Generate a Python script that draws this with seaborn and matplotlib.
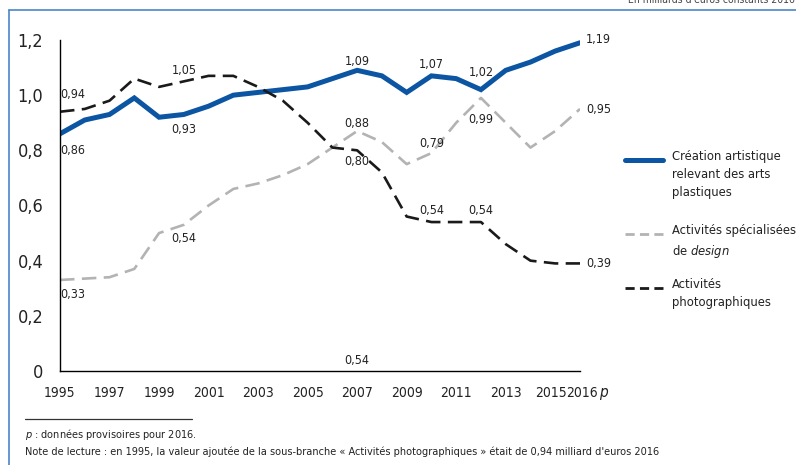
import matplotlib
matplotlib.use("Agg")
import matplotlib.pyplot as plt
from matplotlib import font_manager
from matplotlib.lines import Line2D
import matplotlib.transforms as mtrans
import seaborn as sns
import pandas as pd

years = list(range(1995, 2017))
creation = [0.86, 0.91, 0.93, 0.99, 0.92, 0.93, 0.96, 1.00, 1.01, 1.02, 1.03, 1.06,
            1.09, 1.07, 1.01, 1.07, 1.06, 1.02, 1.09, 1.12, 1.16, 1.19]
design = [0.33, 0.335, 0.34, 0.37, 0.50, 0.53, 0.60, 0.66, 0.68, 0.71, 0.75, 0.81,
          0.87, 0.83, 0.75, 0.79, 0.90, 0.99, 0.90, 0.81, 0.87, 0.95]
photo = [0.94, 0.95, 0.98, 1.06, 1.03, 1.05, 1.07, 1.07, 1.03, 0.98, 0.90, 0.81,
         0.80, 0.72, 0.56, 0.54, 0.54, 0.54, 0.46, 0.40, 0.39, 0.39]

series_names = ["Création artistique\nrelevant des arts\nplastiques",
                "Activités spécialisées\nde $\\it{design}$",
                "Activités\nphotographiques"]
y_ticks = [0, 0.2, 0.4, 0.6, 0.8, 1.0, 1.2]
y_labels = ["0", "0,2", "0,4", "0,6", "0,8", "1,0", "1,2"]
x_ticks = [1995, 1997, 1999, 2001, 2003, 2005, 2007, 2009, 2011, 2013, 2015, 2016]
x_labels = [str(y) for y in x_ticks]

# value labels: (year, value, text, dx px, dy px, ha)
labels = [
    (1995, 0.94, "0,94", 13, 17, "center"),
    (1995, 0.86, "0,86", 13, -17, "center"),
    (2000, 1.05, "1,05", 0, 11, "center"),
    (2000, 0.93, "0,93", 0, -15, "center"),
    (2000, 0.53, "0,54", 0, -14, "center"),
    (1995, 0.33, "0,33", 13, -15, "center"),
    (2007, 1.09, "1,09", 0, 9, "center"),
    (2007, 0.87, "0,88", 0, 8, "center"),
    (2007, 0.80, "0,80", 0, -11, "center"),
    (2010, 1.07, "1,07", 0, 11, "center"),
    (2010, 0.79, "0,79", 0, 10, "center"),
    (2010, 0.54, "0,54", 0, 12, "center"),
    (2012, 1.02, "1,02", 0, 17, "center"),
    (2012, 0.99, "0,99", 0, -22, "center"),
    (2012, 0.54, "0,54", 0, 12, "center"),
    (2007, 0.0, "0,54", 0, 11, "center"),
    (2016, 1.19, "1,19", 6, 3, "left"),
    (2016, 0.95, "0,95", 6, -1, "left"),
    (2016, 0.39, "0,39", 6, 0, "left"),
]


def find_condensed():
    # look for any narrow / condensed face that is installed
    best = None
    for f in font_manager.fontManager.ttflist:
        narrow = f.stretch in ("condensed", "semi-condensed", "extra-condensed") \
            or "Narrow" in f.name or "Condensed" in f.name
        if narrow and f.style == "normal" and f.weight in (400, "normal", "regular"):
            rank = 0 if "Noto Sans" == f.name else 1
            if best is None or rank < best[0]:
                best = (rank, f.name, f.stretch)
    return best


sns.set_style("white")
found = find_condensed()
if found:
    fam, stretch, scale = found[1], found[2], 1.0
else:
    fam, stretch, scale = "Roboto", "normal", 0.95
plt.rcParams["font.family"] = [fam, "DejaVu Sans"]
plt.rcParams["font.stretch"] = stretch
plt.rcParams["mathtext.fontset"] = "custom"
plt.rcParams["mathtext.rm"] = fam
plt.rcParams["mathtext.it"] = fam + ":italic"

blue = "#0b55a3"
grey = "#b3b3b3"
black = "#1a1a1a"
txt_col = "#222222"

df = pd.DataFrame({"year": years, "creation": creation, "design": design, "photo": photo})

fig = plt.figure(figsize=(7.96, 4.65), dpi=100)
ax = fig.add_axes([60 / 796, 1 - 371 / 465, 520 / 796, 331 / 465])

sns.lineplot(data=df, x="year", y="creation", ax=ax, color=blue, linewidth=3.6,
             solid_joinstyle="miter")
sns.lineplot(data=df, x="year", y="design", ax=ax, color=grey, linewidth=1.9,
             linestyle=(0, (5.5, 2.8)))
sns.lineplot(data=df, x="year", y="photo", ax=ax, color=black, linewidth=1.9,
             linestyle=(0, (5.5, 2.8)))

ax.set_xlim(1995, 2016)
ax.set_ylim(0, 1.2)
ax.set_xticks(x_ticks)
ax.set_xticklabels(x_labels, fontsize=10 * scale, color=txt_col)
ax.set_yticks(y_ticks)
ax.set_yticklabels(y_labels, fontsize=13 * scale, color=txt_col)
ax.set_xlabel("")
ax.set_ylabel("")
ax.tick_params(axis="x", direction="out", length=6, width=1, color="black", pad=5)
ax.tick_params(axis="y", direction="out", length=5, width=1, color="black", pad=7)
for s in ["top", "right"]:
    ax.spines[s].set_visible(False)
for s in ["left", "bottom"]:
    ax.spines[s].set_color("black")
    ax.spines[s].set_linewidth(1)
ax.patch.set_alpha(0)

# nudge the two last year labels apart like the original
xt = ax.get_xticklabels()
xt[-2].set_transform(xt[-2].get_transform() + mtrans.ScaledTranslation(-4 / 100, 0, fig.dpi_scale_trans))
xt[-1].set_transform(xt[-1].get_transform() + mtrans.ScaledTranslation(2 / 100, 0, fig.dpi_scale_trans))
ax.annotate("p", xy=(2016, 0), xycoords=("data", "axes fraction"), xytext=(23, -21),
            textcoords="offset pixels", ha="center", va="center", style="italic",
            fontsize=11 * scale, color=txt_col)

for yr, val, txt, dx, dy, ha in labels:
    ax.annotate(txt, (yr, val), xytext=(dx, dy), textcoords="offset pixels",
                ha=ha, va="center", fontsize=9 * scale, color=txt_col)

# legend drawn on the figure
W, H = 796, 465
dash_leg = (0, (3.3, 1.9))
leg_items = [(blue, "-", 3.6, 160, 150), (grey, (0, (3.3, 1.9)), 2.0, 234, 224),
             (black, dash_leg, 2.0, 288, 278)]
for (col, ls, lw, ly, ty), name in zip(leg_items, series_names):
    fig.add_artist(Line2D([625 / W, 663 / W], [1 - ly / H, 1 - ly / H], color=col,
                          linestyle=ls, linewidth=lw))
    fig.text(672 / W, 1 - ty / H, name, fontsize=9.3 * scale, va="top", ha="left",
             linespacing=1.5, color=txt_col)

# frame and notes
frame = "#4a86c8"
fig.add_artist(Line2D([9 / W, 1], [1 - 10 / H, 1 - 10 / H], color=frame, linewidth=1.2))
fig.add_artist(Line2D([9 / W, 9 / W], [0, 1 - 10 / H], color=frame, linewidth=1.2))
fig.text(0.998, 1.0, "En milliards d'euros constants 2016", ha="right", va="center",
         fontsize=7.5 * scale, color="#444444")
fig.add_artist(Line2D([25 / W, 192 / W], [1 - 419 / H, 1 - 419 / H], color="#333333",
                      linewidth=0.9))
fig.text(25 / W, 1 - 435 / H, "$\\it{p}$ : données provisoires pour 2016.",
         fontsize=7.8 * scale, va="center", ha="left", color=txt_col)
fig.text(25 / W, 1 - 452 / H,
         "Note de lecture : en 1995, la valeur ajoutée de la sous-branche « Activités "
         "photographiques » était de 0,94 milliard d'euros 2016",
         fontsize=7.8 * scale, va="center", ha="left", color=txt_col)

fig.savefig("out.png", dpi=100)
